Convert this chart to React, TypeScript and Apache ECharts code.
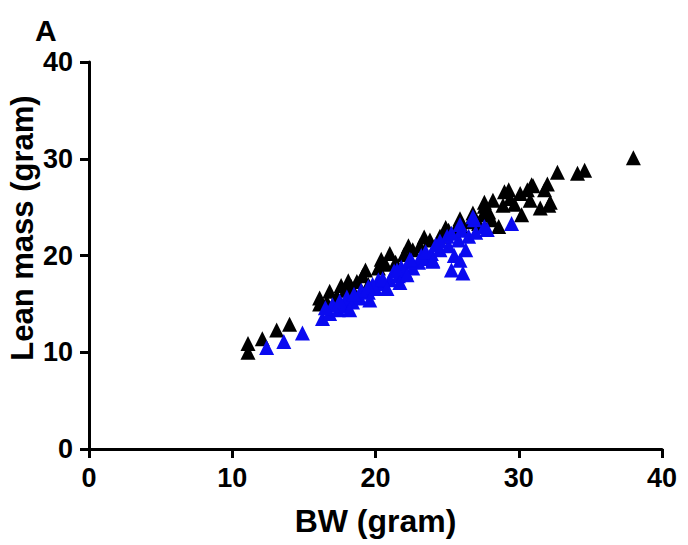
import React, { useEffect, useRef } from "react";
import * as echarts from "echarts";

const xTicks = [0, 10, 20, 30, 40];
const yTicks = [0, 10, 20, 30, 40];

const blackSeries: [number, number][] = [
  [11.1, 10.0], [11.1, 10.9], [12.1, 11.4], [13.1, 12.3], [14.0, 12.9],
  [16.1, 15.6], [16.1, 15.0], [16.6, 15.2], [17.3, 15.8], [17.9, 16.4], [18.3, 16.8],
  [18.7, 17.3], [19.1, 17.9], [19.5, 17.0], [20.2, 18.7], [20.7, 19.1], [21.4, 19.3],
  [22.0, 20.1], [22.6, 20.6], [23.1, 21.0], [23.8, 21.6], [24.5, 22.0],
  [25.1, 22.6], [25.6, 22.8], [26.0, 23.0], [26.6, 23.5], [27.2, 23.3],
  [27.6, 25.1], [27.9, 24.5], [28.1, 23.7], [28.6, 23.0], [29.0, 26.6],
  [29.4, 25.9], [29.7, 25.3], [30.1, 26.4], [30.2, 24.2], [30.6, 26.8],
  [31.0, 27.2], [31.5, 24.9], [32.1, 25.2], [31.8, 26.8], [32.7, 28.6],
  [34.1, 28.5], [34.6, 28.8], [38.0, 30.1], [28.2, 25.7], [27.5, 24.2],
  [26.8, 24.4], [25.9, 23.8], [24.9, 22.9], [23.4, 21.9], [22.3, 21.0], [21.0, 20.2],
  [20.4, 19.6], [19.3, 18.5], [18.1, 17.4], [17.6, 16.9], [16.8, 16.3],
  [32.0, 27.4], [30.9, 27.3], [29.3, 26.8], [32.2, 25.5], [27.6, 25.5],
  [28.9, 25.2], [30.8, 25.7]
];

const blueSeries: [number, number][] = [
  [12.4, 10.5], [13.6, 11.1], [14.9, 12.0], [16.3, 13.5], [16.8, 14.0],
  [17.4, 14.4], [17.9, 14.8], [18.4, 15.2], [18.9, 15.6], [19.5, 16.2],
  [20.0, 16.6], [20.5, 17.1], [21.0, 17.5], [21.6, 17.9], [22.1, 18.3],
  [22.6, 18.7], [23.0, 19.3], [23.5, 19.7], [23.9, 20.2], [24.5, 20.6],
  [25.1, 21.0], [25.3, 18.5], [26.1, 18.2], [25.8, 21.6], [26.0, 22.6],
  [26.5, 22.0], [27.0, 22.4], [27.6, 23.0], [29.5, 23.3], [26.3, 20.6],
  [17.0, 14.9], [18.0, 15.7], [19.0, 16.4], [20.2, 17.5], [21.3, 18.4],
  [22.4, 19.3], [23.2, 20.0], [24.2, 21.1], [25.0, 22.0], [16.5, 14.6],
  [19.8, 17.0], [21.8, 18.8], [24.0, 19.4], [25.5, 20.0],
  [17.5, 15.3], [18.5, 16.0], [19.5, 16.8], [20.5, 17.6], [21.5, 18.5],
  [22.5, 19.5], [23.5, 20.4], [24.5, 21.5], [25.3, 22.3], [25.9, 23.2],
  [26.9, 23.7], [27.8, 22.7], [26.8, 24.0], [25.9, 19.5], [18.2, 14.4],
  [19.6, 15.4], [21.7, 17.2], [22.4, 19.6], [20.8, 16.6], [22.2, 18.0],
  [24.0, 19.5]
];

export default function App() {
  const ref = useRef<HTMLDivElement>(null);
  useEffect(() => {
    if (!ref.current) return;
    const chart = echarts.init(ref.current, null, { renderer: "svg" });
    const font = "Arial, 'Liberation Sans', sans-serif";
    chart.setOption({
      animation: false,
      backgroundColor: "#ffffff",
      graphic: [
        {
          type: "text",
          x: 35,
          y: 15,
          style: {
            text: "A",
            fontFamily: font,
            fontWeight: "bold",
            fontSize: 30,
            fill: "#000",
          },
        },
        {
          type: "text",
          x: 22,
          y: 228,
          rotation: Math.PI / 2,
          style: {
            text: "Lean mass (gram)",
            fontFamily: font,
            fontWeight: "bold",
            fontSize: 31,
            fill: "#000",
            align: "center",
            verticalAlign: "middle",
          },
        },
      ],
      grid: { left: 89, top: 62, right: 26, bottom: 96, containLabel: false },
      xAxis: {
        type: "value",
        min: xTicks[0],
        max: xTicks[xTicks.length - 1],
        interval: 10,
        name: "BW (gram)",
        nameLocation: "middle",
        nameGap: 56,
        nameTextStyle: { fontFamily: font, fontWeight: "bold", fontSize: 32, color: "#000" },
        axisLine: { lineStyle: { color: "#000", width: 3 } },
        axisTick: { show: true, length: 9, lineStyle: { color: "#000", width: 3 } },
        axisLabel: { fontFamily: font, fontWeight: "bold", fontSize: 27, color: "#000", margin: 15 },
        splitLine: { show: false },
      },
      yAxis: {
        type: "value",
        min: yTicks[0],
        max: yTicks[yTicks.length - 1],
        interval: 10,
        axisLine: { show: true, lineStyle: { color: "#000", width: 3 } },
        axisTick: { show: true, length: 9, lineStyle: { color: "#000", width: 3 } },
        axisLabel: { fontFamily: font, fontWeight: "bold", fontSize: 27, color: "#000", margin: 16 },
        splitLine: { show: false },
      },
      series: [
        {
          type: "scatter",
          data: blackSeries,
          symbol: "triangle",
          symbolSize: 15,
          itemStyle: { color: "#000000", opacity: 1 },
        },
        {
          type: "scatter",
          data: blueSeries,
          symbol: "triangle",
          symbolSize: 15,
          itemStyle: { color: "#0a0af0", opacity: 1 },
        },
      ],
    });
    return () => chart.dispose();
  }, []);
  return (
    <div
      ref={ref}
      style={{ position: "fixed", left: 0, top: 0, width: 688, height: 545 }}
    />
  );
}
